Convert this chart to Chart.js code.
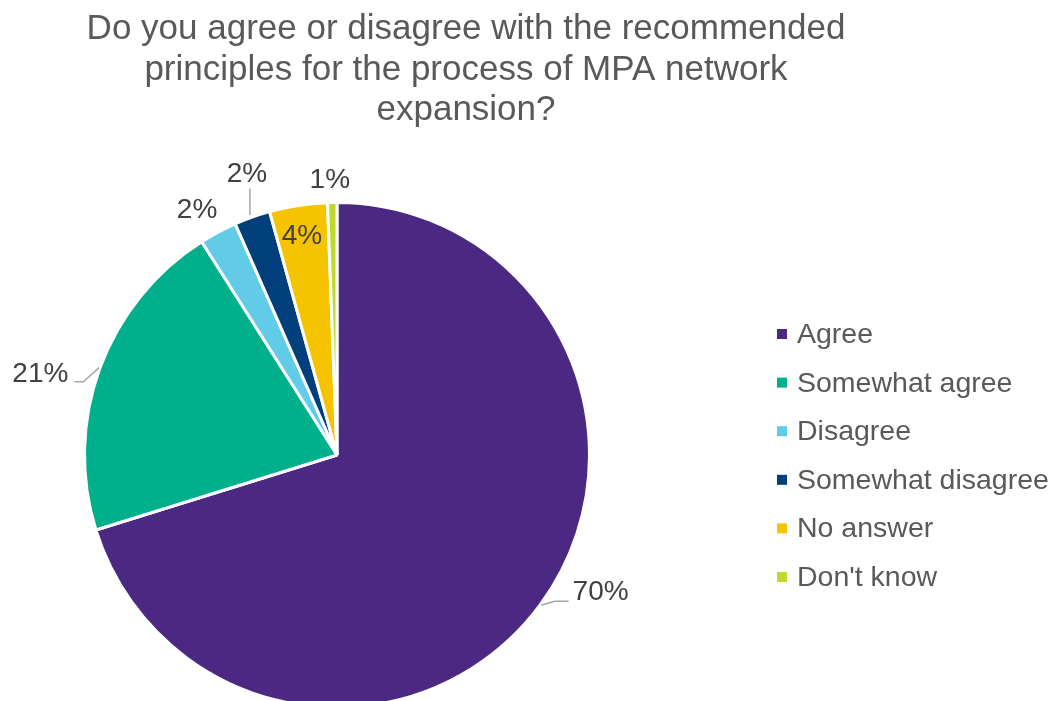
<!DOCTYPE html>
<html>
<head>
<meta charset="utf-8">
<script src="https://cdn.jsdelivr.net/npm/chart.js@4/dist/chart.umd.min.js"></script>
<style>
  html, body { margin: 0; padding: 0; background: #ffffff; overflow: hidden; }
  #wrap { width: 1057px; height: 760px; }
</style>
</head>
<body>
<div id="wrap"><canvas id="chart" width="1057" height="760"></canvas></div>
<script>
// Survey responses, in percent
const categories = ['Agree', 'Somewhat agree', 'Disagree', 'Somewhat disagree', 'No answer', "Don't know"];
const shares = [70.2, 20.8, 2.4, 2.3, 3.7, 0.6];
const sliceColors = ['#4B2882', '#00AF8C', '#62CBE8', '#003F7C', '#F6C300', '#C3D82E'];
const titleLines = [
  'Do you agree or disagree with the recommended',
  'principles for the process of MPA network',
  'expansion?'
];

const FONT = '"Liberation Sans", Arial, Helvetica, sans-serif';

// Where each percentage label sits: distance (in radii) and canvas angle (deg) from the pie centre,
// plus the kind of leader line joining it to its slice.
const labelPlacement = [
  { dist: 1.177, ang: 27.5,  leader: 'right' },
  { dist: 1.218, ang: 195.3, leader: 'left' },
  { dist: 1.115, ang: 240.2, leader: 'none' },
  { dist: 1.167, ang: 252.2, leader: 'down' },
  { dist: 0.877, ang: 260.9, leader: 'none' },
  { dist: 1.087, ang: 268.5, leader: 'none' }
];

const titlePlugin = {
  id: 'centredTitle',
  afterDraw(chart) {
    const ctx = chart.ctx;
    ctx.save();
    ctx.fillStyle = '#595959';
    ctx.font = '35px ' + FONT;
    ctx.textAlign = 'center';
    ctx.textBaseline = 'alphabetic';
    titleLines.forEach((line, i) => ctx.fillText(line, 466, 39 + i * 40.5));
    ctx.restore();
  }
};

const legendPlugin = {
  id: 'sideLegend',
  afterDraw(chart) {
    const ctx = chart.ctx;
    const colors = chart.data.datasets[0].backgroundColor;
    ctx.save();
    ctx.font = '28.5px ' + FONT;
    ctx.textBaseline = 'alphabetic';
    ctx.textAlign = 'left';
    chart.data.labels.forEach((lab, i) => {
      const y = 334 + i * 48.6;
      ctx.fillStyle = colors[i];
      ctx.fillRect(777, y - 5, 10, 10);
      ctx.fillStyle = '#595959';
      ctx.fillText(lab, 797, y + 9);
    });
    ctx.restore();
  }
};

const valueLabelPlugin = {
  id: 'valueLabels',
  afterDatasetsDraw(chart) {
    const ctx = chart.ctx;
    const meta = chart.getDatasetMeta(0);
    const values = chart.data.datasets[0].data;
    ctx.save();
    ctx.font = '28px ' + FONT;
    ctx.textAlign = 'center';
    ctx.textBaseline = 'middle';
    meta.data.forEach((arc, i) => {
      const { x: cx, y: cy, outerRadius: R, startAngle, endAngle } = arc.getProps(['x', 'y', 'outerRadius', 'startAngle', 'endAngle'], true);
      const p = labelPlacement[i];
      const a = p.ang * Math.PI / 180;
      const lx = cx + Math.cos(a) * R * p.dist;
      const ly = cy + Math.sin(a) * R * p.dist;
      const text = Math.round(values[i]) + '%';
      const w = ctx.measureText(text).width;
      const mid = (startAngle + endAngle) / 2;
      const ex = cx + Math.cos(mid) * (R + 1);
      const ey = cy + Math.sin(mid) * (R + 1);

      ctx.strokeStyle = '#A6A6A6';
      ctx.lineWidth = 1.5;
      ctx.beginPath();
      if (p.leader === 'right') {
        const endX = lx - w / 2 - 4, endY = ly + 9;
        ctx.moveTo(ex, ey);
        ctx.lineTo(endX - 14, endY);
        ctx.lineTo(endX, endY);
      } else if (p.leader === 'left') {
        const endX = lx + w / 2 + 6, endY = ly + 8;
        ctx.moveTo(endX, endY);
        ctx.lineTo(endX + 9, endY);
        ctx.lineTo(ex, ey);
      } else if (p.leader === 'down') {
        const x = lx + 3;
        const yEdge = cy - Math.sqrt(R * R - (x - cx) * (x - cx)) - 3;
        ctx.moveTo(x, ly + 14);
        ctx.lineTo(x, yEdge);
      }
      ctx.stroke();

      ctx.fillStyle = '#404040';
      ctx.fillText(text, lx, ly);
    });
    ctx.restore();
  }
};

new Chart(document.getElementById('chart'), {
  type: 'pie',
  data: {
    labels: categories,
    datasets: [{
      data: shares,
      backgroundColor: sliceColors,
      borderColor: '#ffffff',
      borderWidth: 3
    }]
  },
  options: {
    responsive: false,
    devicePixelRatio: 1,
    animation: false,
    layout: { padding: { left: 83, top: 201, right: 466, bottom: 51 } },
    plugins: {
      legend: { display: false },
      title: { display: false },
      tooltip: { enabled: false }
    }
  },
  plugins: [titlePlugin, legendPlugin, valueLabelPlugin]
});
</script>
</body>
</html>
